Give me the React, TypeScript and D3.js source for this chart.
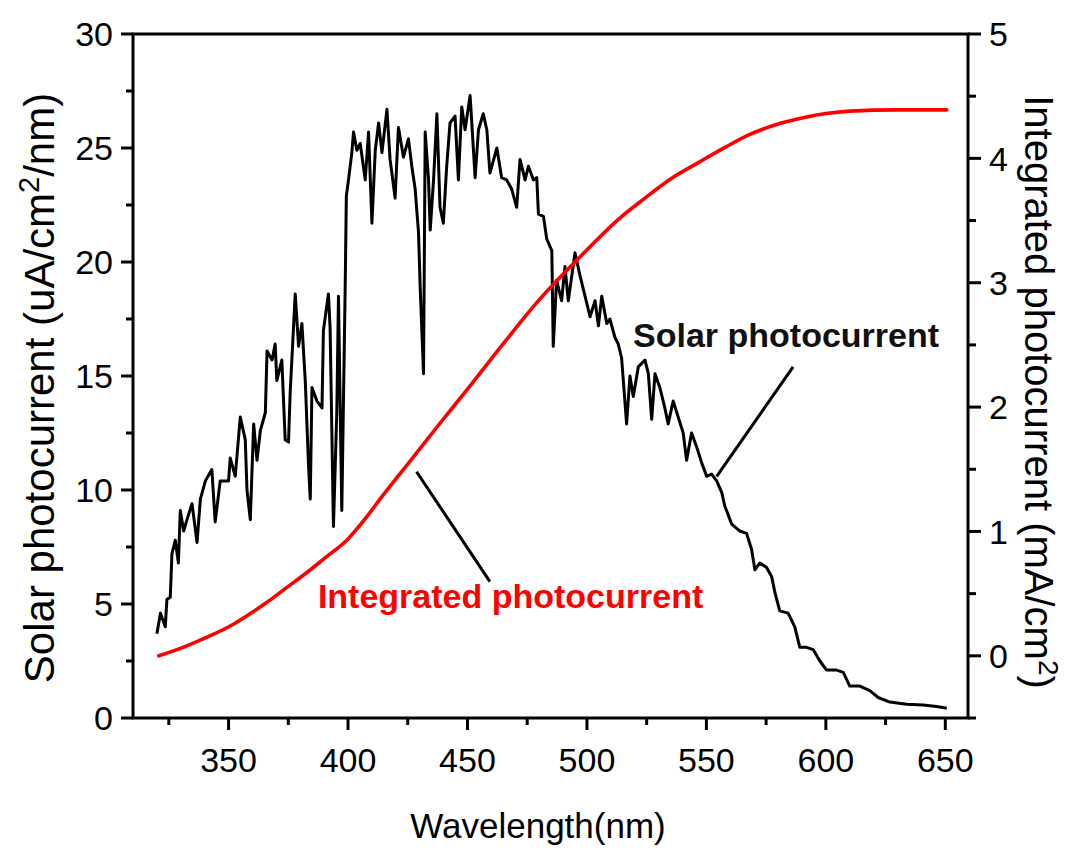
import React from 'react';
import * as d3 from 'd3';

// solar photocurrent spectrum (nm, uA/cm2/nm)
const solarWl = [
  320.0, 321.5, 323.5, 324.2, 325.6, 326.3, 327.7, 329.0, 329.8, 331.2, 332.6, 334.7, 336.8, 338.2,
  340.3, 343.0, 344.4, 346.5, 350.0, 350.7, 352.8, 354.9, 357.0, 357.7, 359.1, 360.5, 361.9, 363.3,
  365.4, 366.1, 368.2, 369.5, 370.2, 372.3, 373.7, 375.1, 375.8, 377.9, 379.3, 380.7, 382.1, 383.5,
  384.2, 384.9, 387.0, 389.1, 389.7, 391.8, 392.5, 393.9, 395.3, 396.0, 397.4, 398.8, 399.3, 400.2,
  401.6, 402.3, 403.7, 405.1, 407.2, 408.6, 410.0, 411.4, 412.8, 414.2, 416.3, 417.6, 419.7, 421.1,
  423.2, 425.3, 426.7, 428.1, 429.5, 430.2, 431.6, 432.3, 433.7, 434.4, 435.8, 437.2, 438.5, 439.9,
  441.3, 442.7, 444.8, 446.2, 447.6, 449.0, 451.1, 453.2, 454.6, 456.6, 458.1, 459.4, 462.3, 464.3,
  466.4, 468.5, 470.6, 472.0, 474.1, 475.5, 477.6, 479.0, 479.7, 481.8, 483.2, 485.3, 485.9, 487.3,
  489.4, 490.8, 492.2, 495.0, 497.1, 499.2, 501.3, 503.4, 504.8, 506.2, 508.3, 509.6, 511.7, 513.1,
  514.5, 516.6, 518.0, 519.4, 521.5, 524.3, 525.7, 527.1, 528.5, 530.5, 532.6, 534.0, 536.1, 538.2,
  540.3, 541.7, 543.8, 545.9, 548.0, 550.1, 552.2, 554.3, 556.4, 557.7, 560.6, 564.0, 566.8, 568.9,
  570.3, 572.4, 575.2, 577.3, 578.7, 580.7, 584.2, 587.0, 589.1, 591.9, 594.7, 597.5, 600.3, 604.5,
  607.3, 610.0, 614.2, 618.4, 621.9, 626.8, 633.8, 640.7, 646.4, 650.6,
];
const solarVal = [
  3.7, 4.6, 4.0, 5.2, 5.3, 7.2, 7.8, 6.8, 9.1, 8.2, 8.7, 9.4, 7.7, 9.6,
  10.4, 10.9, 8.6, 10.4, 10.4, 11.4, 10.6, 13.2, 12.2, 10.0, 8.7, 12.9, 11.3, 12.6,
  13.4, 16.1, 15.7, 16.4, 14.8, 15.7, 12.2, 12.1, 14.3, 18.6, 16.3, 17.3, 14.8, 11.0,
  9.6, 14.5, 13.9, 13.6, 17.0, 18.6, 17.1, 8.4, 13.4, 18.5, 9.1, 18.8, 22.9, 23.6,
  24.8, 25.7, 24.9, 25.2, 23.6, 25.7, 21.7, 24.9, 26.1, 24.8, 26.7, 24.5, 22.8, 25.9,
  24.6, 25.4, 24.2, 23.2, 21.3, 18.9, 15.1, 25.7, 23.6, 21.4, 23.6, 26.5, 22.4, 21.7,
  24.2, 26.1, 26.4, 23.6, 26.8, 25.8, 27.3, 23.7, 25.8, 26.5, 25.8, 23.9, 25.0, 23.7,
  23.6, 23.2, 22.4, 24.5, 23.6, 24.2, 23.6, 23.7, 22.1, 22.0, 21.0, 20.5, 16.3, 19.2,
  18.3, 19.8, 18.3, 20.4, 19.4, 18.5, 17.6, 18.3, 17.2, 18.5, 17.3, 17.5, 16.7, 16.4,
  15.8, 12.9, 15.0, 14.1, 15.4, 15.7, 15.1, 13.1, 15.1, 14.5, 13.6, 12.9, 13.9, 13.2,
  12.5, 11.3, 12.5, 11.9, 11.2, 10.6, 10.7, 10.4, 9.9, 9.3, 8.5, 8.2, 8.1, 7.4,
  6.5, 6.8, 6.6, 6.2, 5.5, 4.7, 4.6, 4.0, 3.1, 3.1, 3.0, 2.5, 2.1, 2.1,
  2.0, 1.4, 1.4, 1.2, 0.9, 0.7, 0.6, 0.57, 0.5, 0.43,
];

// integrated photocurrent (mA/cm2), right axis
const integWl = [
  320.8, 331.2, 341.0, 350.7, 359.1, 366.1, 374.4, 382.8, 391.2, 399.5, 407.9, 413.4, 427.4, 438.5,
  451.1, 465.0, 479.0, 495.7, 513.8, 523.6, 534.7, 547.0, 558.0, 568.0, 579.0, 589.0, 600.0, 610.0,
  630.0, 650.6,
];
const integVal = [
  0.0, 0.07, 0.15, 0.24, 0.34, 0.43, 0.55, 0.67, 0.8, 0.93, 1.12, 1.26, 1.6, 1.87,
  2.17, 2.51, 2.84, 3.18, 3.52, 3.67, 3.83, 3.97, 4.09, 4.19, 4.27, 4.32, 4.36, 4.38,
  4.39, 4.39,
];

const xTicks = [350, 400, 450, 500, 550, 600, 650];
const xMinor = [325, 375, 425, 475, 525, 575, 625];
const leftTicks = [0, 5, 10, 15, 20, 25, 30];
const leftMinor = [2.5, 7.5, 12.5, 17.5, 22.5, 27.5];
const rightTicks = [0, 1, 2, 3, 4, 5];
const rightMinor = [-0.5, 0.5, 1.5, 2.5, 3.5, 4.5];

const W = 1073;
const H = 851;
const FONT = "'Liberation Sans', Arial, sans-serif";

const App = () => {
  const x = d3.scaleLinear().domain([310, 659.5]).range([133, 968]);
  const yL = d3.scaleLinear().domain([0, 30]).range([718, 34]);
  const yR = d3.scaleLinear().domain([-0.5, 5]).range([718, 34]);

  const solar = solarWl.map((w, i) => [w, solarVal[i]]);
  const integ = integWl.map((w, i) => [w, integVal[i]]);

  const solarLine = d3
    .line()
    .x((d) => x(d[0]))
    .y((d) => yL(d[1]));
  const integLine = d3
    .line()
    .x((d) => x(d[0]))
    .y((d) => yR(d[1]))
    .curve(d3.curveMonotoneX);

  const [x0, x1] = x.range();
  const [yb, yt] = yL.range();

  return (
    <svg
      width={W}
      height={H}
      style={{ position: 'absolute', left: 0, top: 0, background: '#fff' }}
      fontFamily={FONT}
    >
      {/* frame */}
      <rect x={x0} y={yt} width={x1 - x0} height={yb - yt} fill="none" stroke="#000" strokeWidth="3" />

      {/* bottom axis */}
      {xTicks.map((t) => (
        <g key={'x' + t}>
          <line x1={x(t)} x2={x(t)} y1={yb} y2={yb + 12} stroke="#000" strokeWidth="3" />
          <text x={x(t)} y={772} fontSize="34" textAnchor="middle">
            {t}
          </text>
        </g>
      ))}
      {xMinor.map((t) => (
        <line key={'xm' + t} x1={x(t)} x2={x(t)} y1={yb} y2={yb + 7} stroke="#000" strokeWidth="3" />
      ))}

      {/* left axis */}
      {leftTicks.map((t) => (
        <g key={'l' + t}>
          <line x1={x0 - 12} x2={x0} y1={yL(t)} y2={yL(t)} stroke="#000" strokeWidth="3" />
          <text x={113} y={yL(t)} dy="0.36em" fontSize="34" textAnchor="end">
            {t}
          </text>
        </g>
      ))}
      {leftMinor.map((t) => (
        <line key={'lm' + t} x1={x0 - 7} x2={x0} y1={yL(t)} y2={yL(t)} stroke="#000" strokeWidth="3" />
      ))}

      {/* right axis */}
      {rightTicks.map((t) => (
        <g key={'r' + t}>
          <line x1={x1} x2={x1 + 13} y1={yR(t)} y2={yR(t)} stroke="#000" strokeWidth="3" />
          <text x={989} y={yR(t)} dy="0.36em" fontSize="34">
            {t}
          </text>
        </g>
      ))}
      {rightMinor.map((t) => (
        <line key={'rm' + t} x1={x1} x2={x1 + 8} y1={yR(t)} y2={yR(t)} stroke="#000" strokeWidth="3" />
      ))}

      {/* axis titles */}
      <text x={538} y={838} fontSize="35" textAnchor="middle">
        Wavelength(nm)
      </text>
      <text transform="translate(54, 388) rotate(-90)" fontSize="42" textAnchor="middle">
        Solar photocurrent (uA/cm
        <tspan fontSize="29" dy="-15">2</tspan>
        <tspan dy="15">/nm)</tspan>
      </text>
      <text transform="translate(1025, 392) rotate(90)" fontSize="40" textAnchor="middle">
        Integrated photocurrent (mA/cm
        <tspan fontSize="28" dy="-14">2</tspan>
        <tspan dy="14">)</tspan>
      </text>

      {/* curves */}
      <path d={solarLine(solar)} fill="none" stroke="#000" strokeWidth="3" strokeLinejoin="round" />
      <path d={integLine(integ)} fill="none" stroke="#ff0000" strokeWidth="3.6" strokeLinecap="round" />

      {/* annotations */}
      <line x1={x(554.3)} y1={yL(10.6)} x2={x(586.3)} y2={yL(15.4)} stroke="#000" strokeWidth="3" />
      <text x={x(519.3)} y={yL(16.27)} fontSize="34" fontWeight="bold" fill="#111">
        Solar photocurrent
      </text>
      <line x1={x(428.7)} y1={yL(10.8)} x2={x(459.4)} y2={yL(5.98)} stroke="#000" strokeWidth="3" />
      <text x={x(387.4)} y={yL(4.82)} fontSize="34" fontWeight="bold" fill="#ff0000">
        Integrated photocurrent
      </text>
    </svg>
  );
};

export default App;
